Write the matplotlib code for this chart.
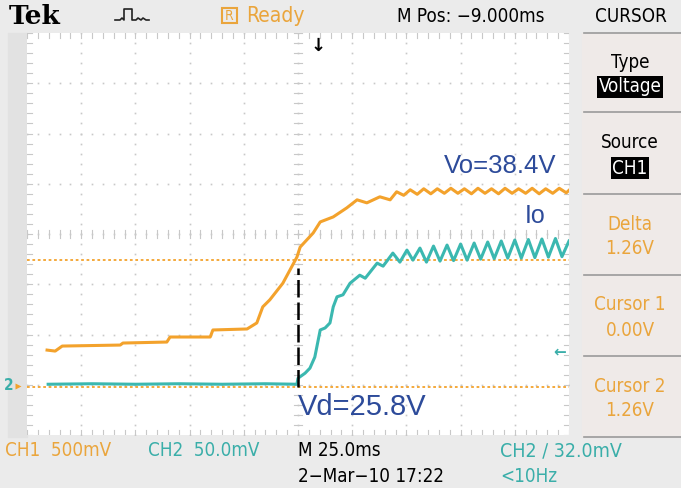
import numpy as np
import matplotlib
matplotlib.use('Agg')
import matplotlib.pyplot as plt
from matplotlib.patches import Rectangle

# trace readings in screen divisions (x: 0..10, y: 0..8)
ch1_x = [0.37, 0.52, 0.65, 1.72, 1.77, 2.58, 2.64, 3.38, 3.43, 4.06, 4.24, 4.35,
         4.48, 4.72, 4.98, 5.04, 5.28, 5.41, 5.65, 5.90, 6.09, 6.27, 6.51, 6.70,
         6.82, 6.95, 7.07, 7.20, 7.32, 7.45, 7.57, 7.70, 7.82, 7.95, 8.07, 8.20,
         8.32, 8.45, 8.57, 8.70, 8.82, 8.95, 9.07, 9.20, 9.32, 9.45, 9.57, 9.70,
         9.82, 9.95, 10.0]
ch1_y = [1.69, 1.67, 1.77, 1.79, 1.83, 1.85, 1.95, 1.95, 2.09, 2.11, 2.23, 2.55,
         2.69, 3.02, 3.54, 3.74, 4.02, 4.24, 4.34, 4.52, 4.68, 4.62, 4.74, 4.68,
         4.84, 4.77, 4.88, 4.79, 4.90, 4.80, 4.90, 4.81, 4.91, 4.81, 4.90, 4.80,
         4.91, 4.81, 4.90, 4.80, 4.91, 4.81, 4.90, 4.81, 4.91, 4.80, 4.90, 4.81,
         4.91, 4.82, 4.87]

ch2_x = [0.39, 1.2, 2.0, 2.8, 3.6, 4.4, 4.98, 5.0, 5.13, 5.22, 5.31, 5.41, 5.50,
         5.59, 5.65, 5.72, 5.83, 5.96, 6.14, 6.24, 6.46, 6.57, 6.75, 6.88, 7.01,
         7.12, 7.25, 7.37, 7.50, 7.62, 7.75, 7.87, 8.00, 8.12, 8.25, 8.37, 8.50,
         8.62, 8.75, 8.87, 9.00, 9.12, 9.25, 9.37, 9.50, 9.62, 9.75, 9.87, 10.0]
ch2_y = [1.01, 1.02, 1.01, 1.02, 1.01, 1.02, 1.01, 1.13, 1.23, 1.33, 1.55, 2.09,
         2.13, 2.23, 2.55, 2.75, 2.79, 3.02, 3.18, 3.12, 3.42, 3.36, 3.62, 3.44,
         3.68, 3.48, 3.72, 3.44, 3.76, 3.46, 3.78, 3.47, 3.80, 3.48, 3.82, 3.50,
         3.84, 3.51, 3.86, 3.52, 3.88, 3.52, 3.89, 3.53, 3.90, 3.54, 3.91, 3.55,
         3.86]

cursor_levels = [3.48, 0.955]
vd_x = 5.0
vd_span = [0.96, 3.32]

ORANGE = '#f3a22c'
TEAL = '#3bb8b0'
OTXT = '#eaa53c'
TTXT = '#3aaea9'
BLUE = '#2d4b9a'
NARROW = dict(family='DejaVu Sans', fontstretch='condensed')

W, H = 681, 488
fig = plt.figure(figsize=(W / 100, H / 100), dpi=100)
bg = fig.add_axes([0, 0, 1, 1])
bg.set_xlim(0, W)
bg.set_ylim(H, 0)
bg.axis('off')
bg.add_patch(Rectangle((0, 0), W, H, color='#ebebeb', zorder=0))
bg.add_patch(Rectangle((582, 33), W - 582, 404, color='#efeae8', zorder=1))
bg.add_patch(Rectangle((8, 33), 19, 404, color='#e2e2e2', zorder=1))
for yy in [33, 112, 194, 275, 356, 437]:
    bg.plot([584, 681], [yy, yy], color='#9a9a9a', lw=1.2, zorder=2)

# top bar
bg.text(9, 16, 'Tek', fontsize=19, fontweight='bold', family='DejaVu Serif',
        va='center', ha='left')
bg.plot([115, 120, 122, 124, 124, 132, 132, 136, 138, 141, 143, 146, 149],
        [20, 20, 18, 20, 9, 9, 20, 20, 18, 20, 18, 20, 20], color='#222222', lw=1.2)
bg.add_patch(Rectangle((222, 8), 15, 15, fill=False, ec=OTXT, lw=1.5))
bg.text(229.5, 16, 'R', fontsize=10, color=OTXT, ha='center', va='center', **NARROW)
bg.text(246, 16, 'Ready', fontsize=15, color=OTXT, va='center', **NARROW)
bg.text(397, 16, 'M Pos: \u22129.000ms', fontsize=13.5, va='center', **NARROW)
bg.text(631, 16, 'CURSOR', fontsize=13.5, va='center', ha='center', **NARROW)

# right menu
menu = [('Type', 'Voltage', True, 'black'), ('Source', 'CH1', True, 'black'),
        ('Delta', '1.26V', False, OTXT), ('Cursor 1', '0.00V', False, OTXT),
        ('Cursor 2', '1.26V', False, OTXT)]
for i, (t1, t2, inv, c) in enumerate(menu):
    y0 = 33 + i * 81
    bg.text(630, y0 + 29, t1, fontsize=13.5, color=c, ha='center', va='center', **NARROW)
    if inv:
        bg.text(630, y0 + 54, t2, fontsize=13.5, color='white', ha='center', va='center',
                bbox=dict(boxstyle='square,pad=0.08', fc='black', ec='none'), **NARROW)
    else:
        bg.text(630, y0 + 54, t2, fontsize=13.5, color=c, ha='center', va='center', **NARROW)

# bottom bar
bg.text(5, 451, 'CH1  500mV', fontsize=13.5, color=OTXT, va='center', **NARROW)
bg.text(148, 451, 'CH2  50.0mV', fontsize=13.5, color=TTXT, va='center', **NARROW)
bg.text(298, 451, 'M 25.0ms', fontsize=13.5, va='center', **NARROW)
bg.text(500, 451, 'CH2 \u2215 32.0mV', fontsize=14, color=TTXT, va='center', **NARROW)
bg.text(298, 477, '2\u2212Mar\u221210 17:22', fontsize=13.5, va='center', **NARROW)
bg.text(500, 477, '<10Hz', fontsize=13.5, color=TTXT, va='center', **NARROW)
bg.text(4, 386, '2', fontsize=11, color=TTXT, fontweight='bold', va='center', **NARROW)
bg.plot([18], [386], marker='>', ms=5, color=ORANGE, mec='none')

# graticule
ax = fig.add_axes([27 / W, 53 / H, 542 / W, 402 / H])
ax.set_xlim(0, 10)
ax.set_ylim(0, 8)
ax.set_facecolor('white')
for s in ax.spines.values():
    s.set_visible(False)
ax.set_xticks([])
ax.set_yticks([])

gc = '#c8c8c8'
minor_x = np.arange(0, 10.01, 0.2)
minor_y = np.arange(0, 8.01, 0.2)
for i in range(1, 10):
    ax.plot([i] * len(minor_y), minor_y, ls='none', marker='s', ms=1.2, color=gc, mec='none')
for j in range(1, 8):
    ax.plot(minor_x, [j] * len(minor_x), ls='none', marker='s', ms=1.2, color=gc, mec='none')
for xv in minor_x:
    ax.plot([xv, xv], [3.93, 4.07], color=gc, lw=0.8)
    ax.plot([xv, xv], [0, 0.1], color=gc, lw=0.8)
    ax.plot([xv, xv], [7.9, 8], color=gc, lw=0.8)
for yv in minor_y:
    ax.plot([4.93, 5.07], [yv, yv], color=gc, lw=0.8)
    ax.plot([0, 0.1], [yv, yv], color=gc, lw=0.8)
    ax.plot([9.9, 10], [yv, yv], color=gc, lw=0.8)

for lv in cursor_levels:
    ax.axhline(lv, color=ORANGE, lw=1.3, ls=(0, (1.5, 1.5)), zorder=3)

ax.plot(ch2_x, ch2_y, color=TEAL, lw=2.2, zorder=4)
ax.plot(ch1_x, ch1_y, color=ORANGE, lw=2.2, zorder=5)
ax.plot([vd_x, vd_x], vd_span, color='black', lw=1.8, ls=(0, (7, 2)), zorder=6)

ax.text(5.37, 7.92, '\u2193', fontsize=13, fontweight='bold', ha='center', va='top')
ax.text(9.83, 1.65, '\u2190', fontsize=11, color=TTXT, ha='center', va='center',
        fontweight='bold')

ax.text(7.7, 5.35, 'Vo=38.4V', fontsize=18.5, color=BLUE, ha='left', va='center',
        family='Liberation Sans')
ax.text(9.18, 4.35, 'Io', fontsize=18, color=BLUE, ha='left', va='center',
        family='Liberation Sans')
ax.text(5.0, 0.55, 'Vd=25.8V', fontsize=21, color=BLUE, ha='left', va='center',
        family='Liberation Sans')

fig.savefig('out.png', dpi=100)
